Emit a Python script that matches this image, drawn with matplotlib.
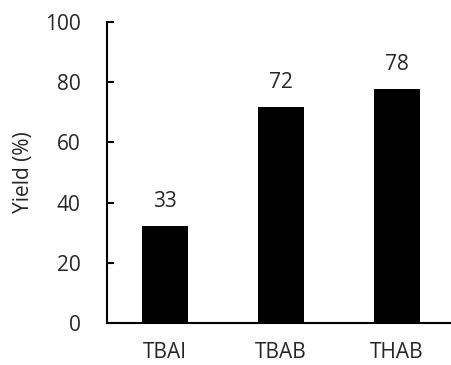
import matplotlib
matplotlib.use("Agg")
import matplotlib.pyplot as plt

categories = ["TBAI", "TBAB", "THAB"]
bar_values = [32.3, 71.9, 77.6]
bar_labels = ["33", "72", "78"]
y_ticks = [0, 20, 40, 60, 80, 100]

plt.rcParams['font.family'] = ['Open Sans', 'DejaVu Sans']
FS = 15
TXT = '#262626'

fig = plt.figure(figsize=(4.51, 3.65), dpi=100)
ax = fig.add_axes([107/451, 42/365, 348/451, 301/365])

x = list(range(len(categories)))
ax.bar(x, bar_values, width=0.4, color='black')
for xi, v, lab in zip(x, bar_values, bar_labels):
    ax.annotate(lab, (xi, v), xytext=(0, 13.7), textcoords='offset points',
                ha='center', va='baseline', fontsize=FS, color=TXT)

ax.set_xlim(-0.5, 2.5)
ax.set_ylim(0, 100)
ax.set_yticks(y_ticks)
ax.set_xticks(x)
ax.set_xticklabels(categories)
ax.set_ylabel("Yield (%)", fontsize=FS, color=TXT, labelpad=8)

for s in ['top', 'right']:
    ax.spines[s].set_visible(False)
for s in ['left', 'bottom']:
    ax.spines[s].set_linewidth(1.5)
ax.tick_params(axis='y', direction='in', length=5, width=1.5, pad=19,
               labelsize=FS, labelcolor=TXT)
ax.tick_params(axis='x', length=0, pad=14, labelsize=FS, labelcolor=TXT)

fig.savefig("out.png", dpi=100)
